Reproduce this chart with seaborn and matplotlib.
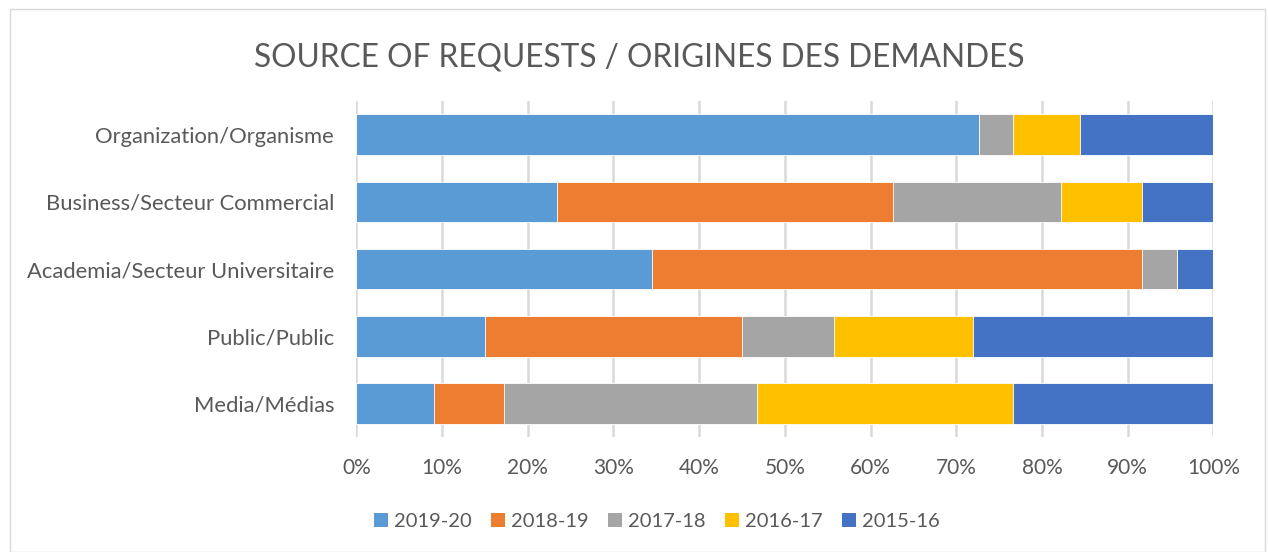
import pandas as pd
import seaborn as sns
import numpy as np
import matplotlib.pyplot as plt
from matplotlib.patches import Rectangle, Patch
from matplotlib.ticker import FuncFormatter

categories = ["Organization/Organisme", "Business/Secteur Commercial",
              "Academia/Secteur Universitaire", "Public/Public", "Media/Médias"]
years = ["2019-20", "2018-19", "2017-18", "2016-17", "2015-16"]
colors = ["#5B9BD5", "#ED7D31", "#A5A5A5", "#FFC000", "#4472C4"]

# share (%) of requests per year
y2019_20 = [72.6, 23.4, 34.5, 15.0, 9.1]
y2018_19 = [0.0, 39.2, 57.2, 30.0, 8.1]
y2017_18 = [4.0, 19.6, 4.1, 10.7, 29.5]
y2016_17 = [7.8, 9.5, 0.0, 16.2, 29.9]
y2015_16 = [15.6, 8.3, 4.2, 28.1, 23.4]

series = [y2019_20, y2018_19, y2017_18, y2016_17, y2015_16]

df = pd.DataFrame({"category": categories})
cum = np.zeros(len(categories))
for name, vals in zip(years, series):
    cum = cum + np.array(vals)
    df[name] = cum

sns.set_style("white")
plt.rcParams['font.family'] = ['Lato', 'DejaVu Sans']

fig = plt.figure(figsize=(12.68, 5.52), dpi=100)
ax = fig.add_axes([0.281, 0.208, 0.676, 0.609])

# draw cumulative bars from the back (largest) to the front
for name, col in reversed(list(zip(years, colors))):
    sns.barplot(data=df, y="category", x=name, color=col, orient="h",
                width=0.6, saturation=1, ax=ax, zorder=3,
                edgecolor="white", linewidth=0.6)

ax.set_xlim(0, 100)
ax.set_xticks(np.arange(0, 101, 10))
ax.xaxis.set_major_formatter(FuncFormatter(lambda v, p: f"{int(v)}%"))
ax.grid(axis="x", color="#D9D9D9", linewidth=1.8, zorder=0)
ax.grid(axis="y", visible=False)
ax.set_xlabel("")
ax.set_ylabel("")
for s in ax.spines.values():
    s.set_visible(False)
ax.tick_params(axis="both", length=0, colors="#595959")
ax.tick_params(axis="x", labelsize=15, pad=15)
ax.tick_params(axis="y", labelsize=15.8, pad=16)

fig.text(0.504, 0.896, "SOURCE OF REQUESTS / ORIGINES DES DEMANDES",
         ha="center", va="center", fontsize=22.8, color="#595959")

handles = [Patch(facecolor=c, edgecolor="none") for c in colors]
fig.legend(handles, years, loc="center", bbox_to_anchor=(0.518, 0.056), ncol=5,
           frameon=False, fontsize=14.5, handlelength=0.7, handleheight=0.7,
           handletextpad=0.3, columnspacing=0.95, labelcolor="#595959")

fig.patches.append(Rectangle((0.008, 0.0), 0.99, 0.983, transform=fig.transFigure,
                             fill=False, edgecolor="#D9D9D9", linewidth=1))

fig.savefig("out.png", dpi=100)
